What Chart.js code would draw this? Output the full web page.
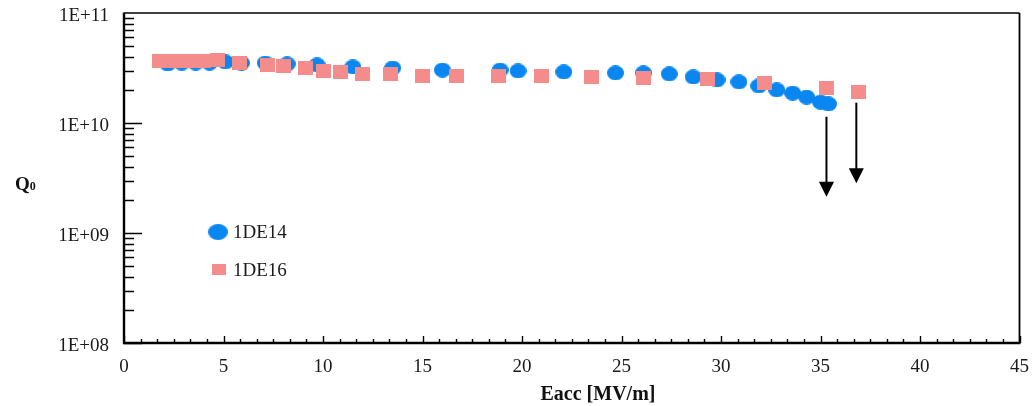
<!DOCTYPE html>
<html>
<head>
<meta charset="utf-8">
<script src="https://cdn.jsdelivr.net/npm/chart.js@4.4.1/dist/chart.umd.min.js"></script>
<style>
html, body { margin: 0; padding: 0; background: #fff; }
#wrap { width: 1035px; height: 406px; }
</style>
</head>
<body>
<div id="wrap"><canvas id="myChart" width="1035" height="406"></canvas></div>
<script>
// cavity 1DE14 (blue dots)
const de14Eacc = [2.2, 2.9, 3.6, 4.3, 5.1, 5.9, 7.1, 8.2, 9.7, 11.5, 13.5, 16.0, 18.9, 19.8, 22.1, 24.7, 26.1, 27.4, 28.6, 29.8, 30.9, 31.9, 32.8, 33.6, 34.3, 35.0, 35.4];
const de14Q = [3.44e10, 3.51e10, 3.51e10, 3.51e10, 3.59e10, 3.51e10, 3.51e10, 3.44e10, 3.37e10, 3.23e10, 3.16e10, 3.03e10, 3.03e10, 2.97e10, 2.91e10, 2.85e10, 2.85e10, 2.79e10, 2.62e10, 2.46e10, 2.36e10, 2.17e10, 2.0e10, 1.87e10, 1.72e10, 1.55e10, 1.49e10];

// cavity 1DE16 (pink squares)
const de16Eacc = [1.8, 2.4, 3.0, 3.5, 4.0, 4.7, 5.8, 7.2, 8.0, 9.1, 10.0, 10.9, 12.0, 13.4, 15.0, 16.7, 18.8, 21.0, 23.5, 26.1, 29.3, 32.2, 35.3, 36.9];
const de16Q = [3.66e10, 3.66e10, 3.66e10, 3.66e10, 3.66e10, 3.74e10, 3.51e10, 3.37e10, 3.30e10, 3.16e10, 2.97e10, 2.91e10, 2.79e10, 2.79e10, 2.68e10, 2.68e10, 2.68e10, 2.68e10, 2.62e10, 2.56e10, 2.51e10, 2.31e10, 2.08e10, 1.91e10];

// quench arrows (Eacc, Q start, Q tip)
const arrowEacc = [35.3, 36.8];
const arrowFrom = [1.14e10, 1.53e10];
const arrowTo = [2.14e9, 2.83e9];

const yTickValues = [1e8, 1e9, 1e10, 1e11];
const yTickLabels = ['1E+08', '1E+09', '1E+10', '1E+11'];
const seriesNames = ['1DE14', '1DE16'];

const blue = '#0a86f0';
const pink = '#f58c8c';
const serif = "'Liberation Serif', 'Times New Roman', serif";

function makeMarker(shape, w, h, color) {
    let c = document.createElement('canvas');
    c.width = w;
    c.height = h;
    let g = c.getContext('2d');
    g.fillStyle = color;
    if (shape == 'ellipse') {
        g.beginPath();
        g.ellipse(w / 2, h / 2, w / 2, h / 2, 0, 0, 2 * Math.PI);
        g.fill();
    } else {
        g.fillRect(0, 0, w, h);
    }
    return c;
}

const dotMarker = makeMarker('ellipse', 17, 15, blue);
const squareMarker = makeMarker('rect', 15, 14, pink);

// frame, inside tick marks, arrows, legend and axis titles
const decorations = {
    id: 'decorations',
    afterDatasetsDraw(chart) {
        let ctx = chart.ctx;
        let a = chart.chartArea;
        let xs = chart.scales.x;
        let ys = chart.scales.y;
        ctx.save();
        ctx.strokeStyle = '#000';

        // ticks
        ctx.lineWidth = 1.4;
        ctx.beginPath();
        for (let i = 0; i <= 54; i++) {
            let v = i * 5 / 6;
            let px = Math.round(xs.getPixelForValue(v)) + 0.5;
            let len = (i % 6 == 0) ? 7 : 4;
            ctx.moveTo(px, a.bottom);
            ctx.lineTo(px, a.bottom - len);
        }
        for (let d = 8; d <= 10; d++) {
            for (let m = 1; m <= 9; m++) {
                let py = Math.round(ys.getPixelForValue(m * Math.pow(10, d))) + 0.5;
                let len = (m == 1) ? 18 : 10;
                ctx.moveTo(a.left, py);
                ctx.lineTo(a.left + len, py);
            }
        }
        ctx.stroke();

        // frame
        ctx.lineWidth = 1.3;
        ctx.beginPath();
        ctx.moveTo(a.left, a.top);
        ctx.lineTo(a.right, a.top);
        ctx.stroke();
        ctx.lineWidth = 1.8;
        ctx.beginPath();
        ctx.moveTo(a.right, a.top);
        ctx.lineTo(a.right, a.bottom);
        ctx.stroke();
        ctx.lineWidth = 2.4;
        ctx.beginPath();
        ctx.moveTo(a.left, a.top - 0.6);
        ctx.lineTo(a.left, a.bottom);
        ctx.lineTo(a.right + 1, a.bottom);
        ctx.stroke();

        // arrows
        ctx.fillStyle = '#000';
        ctx.lineWidth = 2;
        arrowEacc.forEach(function (e, i) {
            let px = xs.getPixelForValue(e);
            let y1 = ys.getPixelForValue(arrowFrom[i]);
            let y2 = ys.getPixelForValue(arrowTo[i]);
            ctx.beginPath();
            ctx.moveTo(px, y1);
            ctx.lineTo(px, y2 - 12);
            ctx.stroke();
            ctx.beginPath();
            ctx.moveTo(px - 7.5, y2 - 15);
            ctx.lineTo(px + 7.5, y2 - 15);
            ctx.lineTo(px, y2);
            ctx.closePath();
            ctx.fill();
        });

        // legend
        ctx.drawImage(dotMarker, a.left + 84, a.top + 211, 20, 16);
        ctx.drawImage(squareMarker, a.left + 88, a.top + 251, 14, 11);
        ctx.fillStyle = '#1a1a1a';
        ctx.font = '19px ' + serif;
        ctx.textBaseline = 'middle';
        ctx.textAlign = 'left';
        ctx.fillText(seriesNames[0], a.left + 109, a.top + 220);
        ctx.fillText(seriesNames[1], a.left + 109, a.top + 258);

        // axis titles
        ctx.fillStyle = '#111';
        ctx.textBaseline = 'alphabetic';
        ctx.font = 'bold 19px ' + serif;
        ctx.fillText('Q', 15, 190);
        let qw = ctx.measureText('Q').width;
        ctx.font = 'bold 12px ' + serif;
        ctx.fillText('0', 15 + qw, 190);
        ctx.font = 'bold 20px ' + serif;
        ctx.textAlign = 'center';
        ctx.fillText('Eacc [MV/m]', 598, 400);
        ctx.restore();
    }
};

ctx = document.getElementById('myChart');
var chart = new Chart(ctx, {
    type: 'scatter',
    data: {
        datasets: [{
            label: seriesNames[1],
            data: de16Eacc.map((e, i) => ({ x: e, y: de16Q[i] })),
            pointStyle: squareMarker,
            backgroundColor: pink
        }, {
            label: seriesNames[0],
            data: de14Eacc.map((e, i) => ({ x: e, y: de14Q[i] })),
            pointStyle: dotMarker,
            backgroundColor: blue
        }]
    },
    options: {
        responsive: false,
        animation: false,
        devicePixelRatio: 1,
        layout: { padding: { top: 13, right: 15.5, left: 0, bottom: 0 } },
        plugins: {
            legend: { display: false },
            tooltip: { enabled: false }
        },
        scales: {
            x: {
                type: 'linear',
                min: 0,
                max: 45,
                afterFit: (scale) => {
                    scale.height = 63;
                    scale.paddingLeft = 0;
                    scale.paddingRight = 0;
                },
                grid: { display: false, drawTicks: false },
                border: { display: false },
                ticks: {
                    stepSize: 5,
                    padding: 13,
                    color: '#1a1a1a',
                    font: { family: serif, size: 19 },
                    maxRotation: 0
                }
            },
            y: {
                type: 'logarithmic',
                min: 1e8,
                max: 1e11,
                afterFit: (scale) => {
                    scale.width = 124;
                    scale.paddingTop = 0;
                    scale.paddingBottom = 0;
                },
                afterBuildTicks: (scale) => {
                    scale.ticks = yTickValues.map((v) => ({ value: v }));
                },
                grid: { display: false, drawTicks: false },
                border: { display: false },
                ticks: {
                    padding: 15,
                    labelOffset: 3,
                    color: '#1a1a1a',
                    font: { family: serif, size: 19 },
                    callback: (value) => yTickLabels[yTickValues.indexOf(value)]
                }
            }
        }
    },
    plugins: [decorations]
});
</script>
</body>
</html>
